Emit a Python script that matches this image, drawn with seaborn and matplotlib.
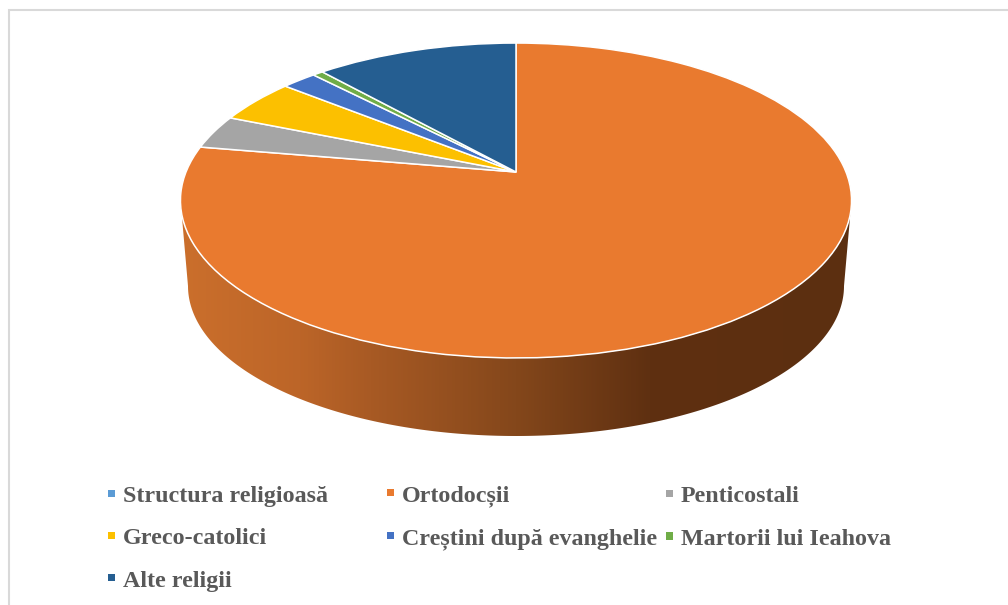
import numpy as np
import matplotlib
matplotlib.use("Agg")
import matplotlib.pyplot as plt
import seaborn as sns
from matplotlib.colors import LinearSegmentedColormap
from matplotlib.legend import Legend
from matplotlib.patches import Patch, Polygon
from matplotlib.transforms import Transform

categories = ["Structura religioasă", "Ortodocșii", "Penticostali", "Greco-catolici",
              "Creștini după evanghelie", "Martorii lui Ieahova", "Alte religii"]
values = [0.0, 77.7, 3.5, 4.6, 2.0, 0.6, 11.6]
colors = ["#5B9BD5", "#E97A2F", "#A5A5A5", "#FCC000", "#4472C4", "#70AD47", "#255E91"]
wall_stops = [(180, "#CB6F2C"), (300, "#BC6528"), (370, "#A85A24"), (516, "#84471B"),
              (650, "#5F3011"), (851, "#5C2F10")]

sns.set_theme(style="white", rc={"font.family": ["Liberation Serif", "DejaVu Serif"]})
palette = sns.color_palette(colors)

W, H = 1008, 605
CX, CY, A, C, K = 516.0, 172.0, 152.3, 330.0, 0.181


class Perspective(Transform):
    """Tilted-disc view: unit pie circle -> pixel coordinates of the canvas."""
    input_dims = output_dims = 2

    def transform_non_affine(self, xy):
        xy = np.asarray(xy, float)
        w = 1 + K * xy[:, 1]
        return np.column_stack([CX + C * xy[:, 0] / w, CY - A * xy[:, 1] / w])


fig = plt.figure(figsize=(W / 100, H / 100), dpi=100)
ax = fig.add_axes([0, 0, 1, 1])

wedges, _ = ax.pie(values, colors=palette, startangle=90, counterclock=False,
                   wedgeprops=dict(edgecolor="white", linewidth=1.1))
persp = Perspective()
for w in wedges:
    w.set_transform(persp + ax.transData)
    w.set_zorder(3)
    w.set_clip_on(False)

# side wall
t = np.linspace(0, np.pi, 300)
top = np.column_stack([516 + 335.5 * np.cos(t), 200.5 + 157.5 * np.sin(t)])
bot = np.column_stack([516 + 328 * np.cos(t[::-1]), 286 + 150 * np.sin(t[::-1])])
wall = Polygon(np.vstack([top, bot]), closed=True, transform=ax.transData, fc="none", ec="none")
ax.add_patch(wall)
xs = [s[0] for s in wall_stops]
cmap = LinearSegmentedColormap.from_list(
    "wall", [((x - xs[0]) / (xs[-1] - xs[0]), c) for x, c in wall_stops])
im = ax.imshow(np.linspace(0, 1, 512)[None, :], cmap=cmap, aspect="auto",
               extent=(xs[0], xs[-1], 440, 190), zorder=1, interpolation="bilinear")
im.set_clip_path(wall)

ax.set_aspect("auto")
ax.set_xlim(0, W)
ax.set_ylim(H, 0)
ax.set_axis_on()
ax.set_frame_on(False)
ax.set_xticks([])
ax.set_yticks([])

# chart frame
ax.plot([8.5, 8.5, W], [H, 9.5, 9.5], color="#D9D9D9", lw=1.5, zorder=2, solid_joinstyle="miter")

# legend, laid out in three columns
fs = 17.25
columns = [([0, 3, 6], 108, 486), ([1, 4], 387, 485.5), ([2, 5], 666, 486.4)]
for idx, x0, y0 in columns:
    handles = [Patch(facecolor=palette[i], edgecolor="none") for i in idx]
    leg = Legend(ax, handles, [categories[i] for i in idx], loc="upper left",
                 bbox_to_anchor=(x0, y0), bbox_transform=ax.transData,
                 frameon=False, borderpad=0, borderaxespad=0, fontsize=fs,
                 handlelength=0.28, handleheight=0.08, handletextpad=0.33,
                 labelspacing=0.89, labelcolor="#595959", prop=dict(size=fs, weight="bold"))
    ax.add_artist(leg)

fig.savefig("out.png", dpi=100, facecolor="white")
